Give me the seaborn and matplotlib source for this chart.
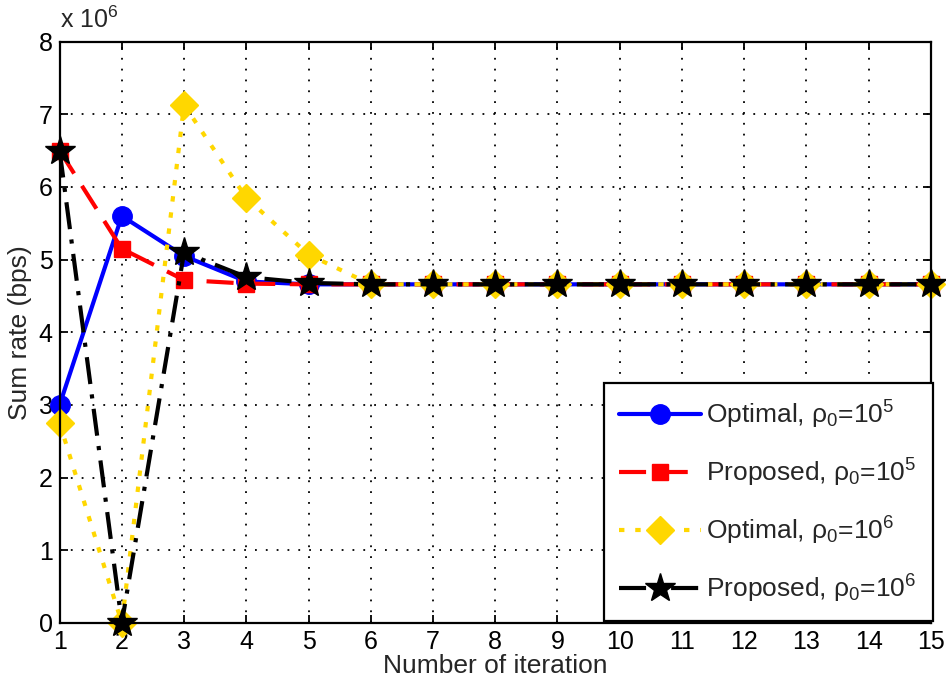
import matplotlib
matplotlib.use("Agg")
import matplotlib.pyplot as plt
import pandas as pd
import seaborn as sns

# sum rate values in units of 1e6 bps
iterations = list(range(1, 16))
optimal_1e5 = [3.0, 5.6, 5.05, 4.70] + [4.66] * 11
proposed_1e5 = [6.5, 5.15, 4.72, 4.67] + [4.66] * 11
optimal_1e6 = [2.75, 0.0, 7.13, 5.85, 5.07] + [4.66] * 10
proposed_1e6 = [6.5, 0.0, 5.1, 4.76, 4.68] + [4.66] * 10

labels = [
    r"Optimal, ρ$_0$=10$^5$",
    r"Proposed, ρ$_0$=10$^5$",
    r"Optimal, ρ$_0$=10$^6$",
    r"Proposed, ρ$_0$=10$^6$",
]

styles = {
    labels[0]: dict(color="#0000ff", linestyle="-", marker="o", markersize=14),
    labels[1]: dict(color="#ff0000", linestyle=(0, (6.5, 3.5)), marker="s", markersize=12),
    labels[2]: dict(color="#ffd700", linestyle=(0, (1.3, 2.6)), marker="D", markersize=14),
    labels[3]: dict(color="#000000", linestyle=(0, (6.5, 2.5, 1, 2.5)), marker="*", markersize=22),
}

df = pd.concat(
    [
        pd.DataFrame({"Iteration": iterations, "Rate": vals, "Series": lab})
        for lab, vals in zip(labels, [optimal_1e5, proposed_1e5, optimal_1e6, proposed_1e6])
    ],
    ignore_index=True,
)

sns.set_theme(style="ticks")
plt.rcParams["font.family"] = ["Liberation Sans", "DejaVu Sans"]
plt.rcParams["mathtext.fontset"] = "custom"
plt.rcParams["mathtext.rm"] = "Liberation Sans"
plt.rcParams["mathtext.it"] = "Liberation Sans:italic"
plt.rcParams["mathtext.bf"] = "Liberation Sans:bold"

fig = plt.figure(figsize=(9.46, 6.88), dpi=100)
ax = fig.add_axes([0.063, 0.0945, 0.921, 0.845])

for lab in labels:
    st = styles[lab]
    sns.lineplot(
        data=df[df["Series"] == lab],
        x="Iteration",
        y="Rate",
        color=st["color"],
        linestyle=st["linestyle"],
        marker=st["marker"],
        markersize=st["markersize"],
        markeredgecolor=st["color"] if lab != labels[3] else "black",
        markeredgewidth=1,
        linewidth=3,
        label=lab,
        clip_on=False,
        ax=ax,
    )

ax.set_xlim(1, 15)
ax.set_ylim(0, 8)
ax.set_xticks(iterations)
ax.set_yticks(range(0, 9))
ax.grid(True, linestyle=(0, (1, 5)), color="black", linewidth=1.3)
ax.tick_params(direction="in", top=True, right=True, labelsize=18, length=6, width=1.3,
               colors="black", pad=5)
for s in ax.spines.values():
    s.set_linewidth(1.6)
    s.set_color("black")
ax.set_xlabel("Number of iteration", fontsize=19, labelpad=0)
ax.set_ylabel("Sum rate (bps)", fontsize=19, labelpad=5)
ax.text(0.0, 1.015, r"x 10$^6$", transform=ax.transAxes, fontsize=18, ha="left", va="bottom")

leg = ax.legend(
    loc="lower right",
    fontsize=19,
    handlelength=3.1,
    labelspacing=0.98,
    borderpad=0.6,
    handletextpad=0.2,
    borderaxespad=0,
    fancybox=False,
    framealpha=1,
    edgecolor="black",
    bbox_to_anchor=(1.002, 0.004),
)
leg.get_frame().set_linewidth(1.6)
leg.set_zorder(5)

fig.savefig("out.png", dpi=100)
